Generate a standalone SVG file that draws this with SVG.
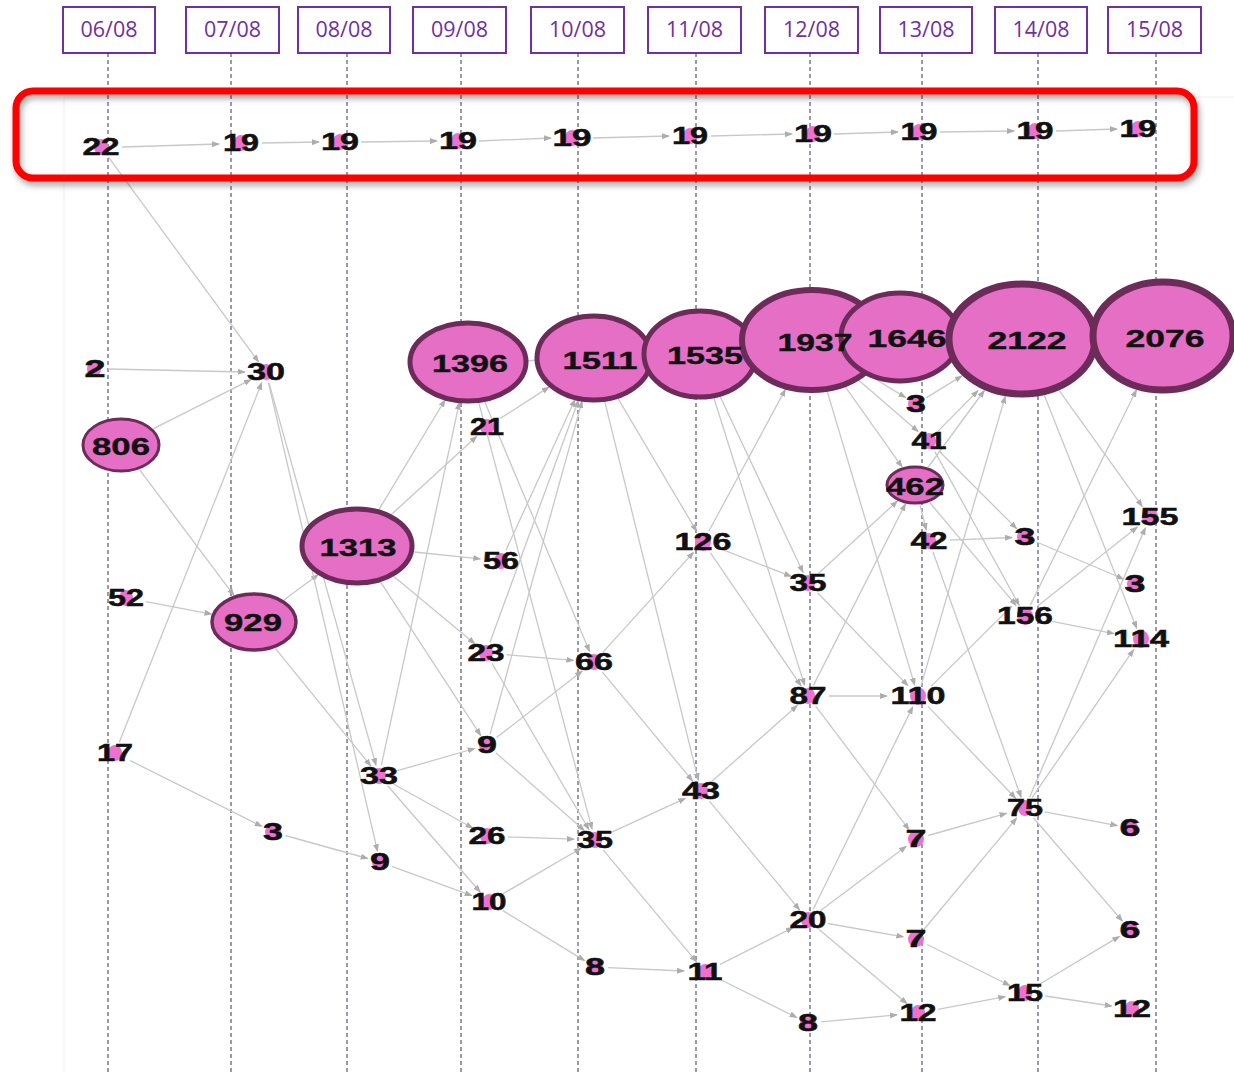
<svg xmlns="http://www.w3.org/2000/svg" width="1234" height="1072" viewBox="0 0 1234 1072">
<style>
.bg{stroke:#efefef;stroke-width:1;fill:none}
.d{stroke:#3b3358;stroke-width:1;stroke-dasharray:4 3;fill:none}
.db{fill:#fff;stroke:#7030a0;stroke-width:2}
.dt{font-family:"Open Sans","Noto Sans",sans-serif;font-size:21px;fill:#7030a0;text-anchor:middle}
.e{stroke:#c8c8c8;stroke-width:1.3;fill:none;marker-end:url(#ah)}
.en{stroke:#c8c8c8;stroke-width:1.3;fill:none}
.big{fill:#e66fc6;stroke:#6d2b5a}
.dot{fill:#ee70cf}
.lb{font-family:"Liberation Sans",Arial,sans-serif;font-weight:bold;font-size:23px;fill:#111;stroke:#111;stroke-width:0.5;text-anchor:middle}
.lg{font-family:"Liberation Sans",Arial,sans-serif;font-weight:bold;font-size:24px;fill:#111;stroke:#111;stroke-width:0.4;text-anchor:middle}
</style>
<defs>
<marker id="ah" markerWidth="8" markerHeight="6" refX="7" refY="3" orient="auto" markerUnits="userSpaceOnUse">
<path d="M0,0 L8,3 L0,6 z" fill="#adadad"/>
</marker>
<filter id="sh" x="-5%" y="-30%" width="110%" height="170%">
<feDropShadow dx="2" dy="4" stdDeviation="3" flood-color="#000" flood-opacity="0.35"/>
</filter>
</defs>
<rect width="1234" height="1072" fill="#fff"/>
<path class="bg" d="M64,97 V1072 M64,97 H1234"/>
<g id="dates">
<g id="d0608"><rect class="db" x="63" y="7" width="92" height="46"/><text class="dt" x="109" y="37" textLength="57" lengthAdjust="spacingAndGlyphs">06/08</text></g>
<g id="d0708"><rect class="db" x="186" y="7" width="93" height="46"/><text class="dt" x="232.5" y="37" textLength="57" lengthAdjust="spacingAndGlyphs">07/08</text></g>
<g id="d0808"><rect class="db" x="298" y="7" width="92" height="46"/><text class="dt" x="344" y="37" textLength="57" lengthAdjust="spacingAndGlyphs">08/08</text></g>
<g id="d0908"><rect class="db" x="413" y="7" width="93" height="46"/><text class="dt" x="459.5" y="37" textLength="57" lengthAdjust="spacingAndGlyphs">09/08</text></g>
<g id="d1008"><rect class="db" x="531" y="7" width="93" height="46"/><text class="dt" x="577.5" y="37" textLength="57" lengthAdjust="spacingAndGlyphs">10/08</text></g>
<g id="d1108"><rect class="db" x="648" y="7" width="93" height="46"/><text class="dt" x="694.5" y="37" textLength="57" lengthAdjust="spacingAndGlyphs">11/08</text></g>
<g id="d1208"><rect class="db" x="765" y="7" width="93" height="46"/><text class="dt" x="811.5" y="37" textLength="57" lengthAdjust="spacingAndGlyphs">12/08</text></g>
<g id="d1308"><rect class="db" x="880" y="7" width="92" height="46"/><text class="dt" x="926" y="37" textLength="57" lengthAdjust="spacingAndGlyphs">13/08</text></g>
<g id="d1408"><rect class="db" x="995" y="7" width="92" height="46"/><text class="dt" x="1041" y="37" textLength="57" lengthAdjust="spacingAndGlyphs">14/08</text></g>
<g id="d1508"><rect class="db" x="1108" y="7" width="93" height="46"/><text class="dt" x="1154.5" y="37" textLength="57" lengthAdjust="spacingAndGlyphs">15/08</text></g>
</g>
<g id="gridlines">
<path class="d" d="M108,53V1072M231,53V1072M347,53V1072M461,53V1072M578,53V1072M696,53V1072M810,53V1072M922,53V1072M1038,53V1072M1156,53V1072"/>
</g>
<g id="connectors">
<line class="e" x1="122" y1="147" x2="219" y2="144"/>
<line class="e" x1="262" y1="143" x2="319" y2="142"/>
<line class="e" x1="361" y1="142" x2="437" y2="141"/>
<line class="e" x1="479" y1="141" x2="551" y2="138"/>
<line class="e" x1="593" y1="138" x2="669" y2="136"/>
<line class="e" x1="711" y1="136" x2="792" y2="134"/>
<line class="e" x1="834" y1="134" x2="898" y2="132"/>
<line class="e" x1="940" y1="132" x2="1014" y2="131"/>
<line class="e" x1="1056" y1="131" x2="1117" y2="129"/>
<line class="e" x1="108.5" y1="157.2" x2="258.5" y2="361.8"/>
<line class="e" x1="108" y1="369" x2="245" y2="372"/>
<line class="e" x1="153.5" y1="428.6" x2="250.9" y2="379.6"/>
<line class="e" x1="139.6" y1="469.8" x2="233.9" y2="595.3"/>
<line class="e" x1="145.8" y1="601.7" x2="211.5" y2="614.1"/>
<line class="e" x1="119.3" y1="742.2" x2="261.7" y2="382.8"/>
<line class="e" x1="130.2" y1="760.6" x2="261.8" y2="826.4"/>
<line class="e" x1="285.3" y1="835.5" x2="367.7" y2="858.5"/>
<line class="e" x1="283.9" y1="600" x2="318" y2="574.8"/>
<line class="e" x1="275.3" y1="648.3" x2="370.8" y2="765.9"/>
<line class="e" x1="269" y1="382.9" x2="376" y2="765.1"/>
<line class="e" x1="268.5" y1="382.9" x2="377.5" y2="851.2"/>
<line class="e" x1="381.4" y1="765" x2="459.3" y2="402.6"/>
<line class="e" x1="378.8" y1="509.9" x2="445" y2="400"/>
<line class="e" x1="391.3" y1="514.6" x2="476.6" y2="436.5"/>
<line class="e" x1="500.3" y1="418.4" x2="549" y2="387.1"/>
<line class="e" x1="414.3" y1="552" x2="480.3" y2="558.8"/>
<line class="e" x1="393.6" y1="576.3" x2="474.8" y2="643.7"/>
<line class="e" x1="380.3" y1="581.7" x2="480.7" y2="735.4"/>
<line class="e" x1="397.4" y1="770.7" x2="474.7" y2="748.5"/>
<line class="e" x1="393.4" y1="784" x2="472.6" y2="828"/>
<line class="e" x1="387.8" y1="786" x2="480.2" y2="892"/>
<line class="e" x1="391.9" y1="866.4" x2="471.8" y2="895.7"/>
<line class="e" x1="496.6" y1="737.6" x2="582.2" y2="671.1"/>
<line class="e" x1="490" y1="734.3" x2="582.1" y2="401.1"/>
<line class="e" x1="496" y1="752.9" x2="584.3" y2="830.5"/>
<line class="e" x1="506.6" y1="654.7" x2="573.4" y2="660.3"/>
<line class="e" x1="490" y1="642.2" x2="578.4" y2="400.5"/>
<line class="e" x1="492.1" y1="663.5" x2="588.9" y2="829.5"/>
<line class="e" x1="505.9" y1="550.3" x2="574.9" y2="399.7"/>
<line class="en" x1="527" y1="361" x2="537" y2="360"/>
<line class="e" x1="484.6" y1="401.5" x2="589.5" y2="651.3"/>
<line class="e" x1="478.7" y1="402.3" x2="592.1" y2="829.1"/>
<line class="e" x1="604.7" y1="401.3" x2="698.3" y2="780.1"/>
<line class="e" x1="617.9" y1="398.3" x2="696.6" y2="531.2"/>
<line class="e" x1="603" y1="652.1" x2="693.5" y2="552.4"/>
<line class="e" x1="602.4" y1="672.1" x2="692.6" y2="780.9"/>
<line class="e" x1="708.8" y1="531.2" x2="785.4" y2="389.4"/>
<line class="e" x1="723.9" y1="550.2" x2="791.1" y2="576.4"/>
<line class="e" x1="710.3" y1="552.7" x2="801" y2="685.7"/>
<line class="e" x1="720" y1="396.3" x2="803" y2="572.3"/>
<line class="e" x1="713.8" y1="397.8" x2="804.6" y2="685.1"/>
<line class="e" x1="711.7" y1="781.5" x2="797.3" y2="705.5"/>
<line class="e" x1="709.4" y1="801.1" x2="799.6" y2="909.9"/>
<line class="e" x1="610.7" y1="832.7" x2="685.3" y2="798.3"/>
<line class="e" x1="603.4" y1="850.1" x2="696.6" y2="961.9"/>
<line class="e" x1="508" y1="836.8" x2="574" y2="839.2"/>
<line class="e" x1="503" y1="893.8" x2="581" y2="848.2"/>
<line class="e" x1="502.6" y1="910.4" x2="584.5" y2="960.6"/>
<line class="e" x1="608" y1="967.6" x2="684" y2="971"/>
<line class="e" x1="720.1" y1="964.4" x2="792.9" y2="927.6"/>
<line class="e" x1="720.2" y1="979.5" x2="796.8" y2="1017.5"/>
<line class="e" x1="820" y1="911" x2="906.2" y2="846.3"/>
<line class="e" x1="827.9" y1="923.5" x2="903.3" y2="936.8"/>
<line class="e" x1="819.1" y1="929.4" x2="906.9" y2="1003.6"/>
<line class="e" x1="813.2" y1="909.3" x2="912.7" y2="706.9"/>
<line class="e" x1="815.7" y1="706.2" x2="909" y2="829.7"/>
<line class="e" x1="829" y1="696" x2="887" y2="696"/>
<line class="e" x1="813.4" y1="685.4" x2="905.4" y2="503.9"/>
<line class="e" x1="821" y1="1021.8" x2="897" y2="1014.9"/>
<line class="e" x1="937.8" y1="1009.3" x2="1005.2" y2="996.7"/>
<line class="e" x1="927.2" y1="944.5" x2="1009.8" y2="985.5"/>
<line class="e" x1="923.5" y1="930" x2="1016.6" y2="818.1"/>
<line class="e" x1="928.3" y1="835.5" x2="1006.5" y2="813.3"/>
<line class="e" x1="1038.7" y1="984.8" x2="1119.4" y2="936.4"/>
<line class="e" x1="1045.3" y1="996" x2="1111.7" y2="1006"/>
<line class="e" x1="1044.7" y1="811.8" x2="1117.3" y2="825.6"/>
<line class="e" x1="1033.6" y1="818" x2="1122.4" y2="921.1"/>
<line class="e" x1="1029.6" y1="797.3" x2="1145.3" y2="527.8"/>
<line class="e" x1="1032.1" y1="797.6" x2="1133.6" y2="649.7"/>
<line class="e" x1="1030.3" y1="605.1" x2="1136.4" y2="390"/>
<line class="e" x1="1052.1" y1="621.4" x2="1113.9" y2="633.6"/>
<line class="e" x1="1037.7" y1="605.9" x2="1137.3" y2="527.1"/>
<line class="e" x1="931.3" y1="686.1" x2="1011.7" y2="606.1"/>
<line class="e" x1="928" y1="706.4" x2="1015.6" y2="798.2"/>
<line class="e" x1="921.2" y1="685.1" x2="1005.2" y2="396.4"/>
<line class="e" x1="818.4" y1="573.5" x2="897.3" y2="501.2"/>
<line class="e" x1="817.6" y1="592.8" x2="907.9" y2="685.6"/>
<line class="e" x1="827.4" y1="391.9" x2="914.7" y2="685.1"/>
<line class="e" x1="845.5" y1="387.1" x2="902.1" y2="466.9"/>
<line class="e" x1="867.7" y1="374.3" x2="905.5" y2="397.6"/>
<line class="e" x1="859" y1="380.6" x2="918.1" y2="431.6"/>
<line class="e" x1="926.5" y1="397.6" x2="961.9" y2="375.9"/>
<line class="e" x1="938" y1="431.1" x2="977.9" y2="390.7"/>
<line class="e" x1="938.8" y1="450.8" x2="1016.6" y2="528.6"/>
<line class="e" x1="934.8" y1="451.6" x2="1019.1" y2="605.2"/>
<line class="e" x1="928.2" y1="467" x2="984.3" y2="390.5"/>
<line class="e" x1="919.9" y1="504.7" x2="926.3" y2="530"/>
<line class="e" x1="929.7" y1="502.5" x2="1016.1" y2="605.4"/>
<line class="e" x1="950" y1="540.1" x2="1012" y2="537.5"/>
<line class="e" x1="932.9" y1="551.8" x2="1021.1" y2="797.2"/>
<line class="e" x1="1036.6" y1="542" x2="1123.4" y2="579"/>
<line class="e" x1="1059.2" y1="390.7" x2="1142.3" y2="506.4"/>
<line class="e" x1="1044.4" y1="395.4" x2="1136.7" y2="628.2"/>
</g>
<g id="nodes">
<g id="n806"><ellipse class="big" cx="121" cy="445" rx="38" ry="26" stroke-width="3"/></g>
<g id="n929"><ellipse class="big" cx="254" cy="622" rx="42" ry="28" stroke-width="3.5"/></g>
<g id="n1313"><ellipse class="big" cx="357" cy="546" rx="55" ry="37" stroke-width="5"/></g>
<g id="n1396"><ellipse class="big" cx="468" cy="362" rx="58" ry="39" stroke-width="5"/></g>
<g id="n1511"><ellipse class="big" cx="594" cy="358" rx="57" ry="42" stroke-width="5"/></g>
<g id="n1535"><ellipse class="big" cx="700" cy="354" rx="56" ry="43" stroke-width="5"/></g>
<g id="n1937"><ellipse class="big" cx="812" cy="340" rx="70" ry="50" stroke-width="6"/></g>
<g id="n1646"><ellipse class="big" cx="900" cy="337" rx="59" ry="44" stroke-width="5"/></g>
<g id="n2122"><ellipse class="big" cx="1022" cy="339" rx="73" ry="55" stroke-width="7"/></g>
<g id="n2076"><ellipse class="big" cx="1163" cy="336" rx="70" ry="54" stroke-width="7"/></g>
<g id="n462"><ellipse class="big" cx="915" cy="485" rx="28" ry="18" stroke-width="3"/></g>
</g>
<g id="smallnodes">
<g id="t1"><ellipse class="dot" cx="101" cy="147" rx="7" ry="8"/><text class="lb" x="101" y="155" textLength="37" lengthAdjust="spacingAndGlyphs">22</text></g>
<g id="t2"><ellipse class="dot" cx="241" cy="143" rx="7" ry="8"/><text class="lb" x="241" y="151" textLength="36" lengthAdjust="spacingAndGlyphs">19</text></g>
<g id="t3"><ellipse class="dot" cx="340" cy="142" rx="7" ry="8"/><text class="lb" x="340" y="150" textLength="38" lengthAdjust="spacingAndGlyphs">19</text></g>
<g id="t4"><ellipse class="dot" cx="458" cy="141" rx="7" ry="8"/><text class="lb" x="458" y="149" textLength="38" lengthAdjust="spacingAndGlyphs">19</text></g>
<g id="t5"><ellipse class="dot" cx="572" cy="138" rx="7" ry="8"/><text class="lb" x="572" y="146" textLength="39" lengthAdjust="spacingAndGlyphs">19</text></g>
<g id="t6"><ellipse class="dot" cx="690" cy="136" rx="7" ry="8"/><text class="lb" x="690" y="144" textLength="36" lengthAdjust="spacingAndGlyphs">19</text></g>
<g id="t7"><ellipse class="dot" cx="813" cy="134" rx="7" ry="8"/><text class="lb" x="813" y="142" textLength="38" lengthAdjust="spacingAndGlyphs">19</text></g>
<g id="t8"><ellipse class="dot" cx="919" cy="132" rx="7" ry="8"/><text class="lb" x="919" y="140" textLength="37" lengthAdjust="spacingAndGlyphs">19</text></g>
<g id="t9"><ellipse class="dot" cx="1035" cy="131" rx="7" ry="8"/><text class="lb" x="1035" y="139" textLength="37" lengthAdjust="spacingAndGlyphs">19</text></g>
<g id="t10"><ellipse class="dot" cx="1138" cy="129" rx="7" ry="8"/><text class="lb" x="1138" y="137" textLength="37" lengthAdjust="spacingAndGlyphs">19</text></g>
<g id="n2"><ellipse class="dot" cx="94" cy="369" rx="7" ry="8"/><text class="lb" x="95" y="377" textLength="21" lengthAdjust="spacingAndGlyphs">2</text></g>
<g id="n52"><ellipse class="dot" cx="126" cy="598" rx="7" ry="8"/><text class="lb" x="126" y="606" textLength="36" lengthAdjust="spacingAndGlyphs">52</text></g>
<g id="n17"><ellipse class="dot" cx="115" cy="753" rx="7" ry="8"/><text class="lb" x="115" y="761" textLength="36" lengthAdjust="spacingAndGlyphs">17</text></g>
<g id="n30"><ellipse class="dot" cx="266" cy="372" rx="7" ry="8"/><text class="lb" x="266" y="380" textLength="38" lengthAdjust="spacingAndGlyphs">30</text></g>
<g id="n3a"><ellipse class="dot" cx="273" cy="832" rx="8" ry="8"/><text class="lb" x="273" y="840" textLength="20" lengthAdjust="spacingAndGlyphs">3</text></g>
<g id="n33"><ellipse class="dot" cx="379" cy="776" rx="7" ry="8"/><text class="lb" x="379" y="784" textLength="38" lengthAdjust="spacingAndGlyphs">33</text></g>
<g id="n9a"><ellipse class="dot" cx="380" cy="862" rx="8" ry="8"/><text class="lb" x="380" y="870" textLength="20" lengthAdjust="spacingAndGlyphs">9</text></g>
<g id="n21"><ellipse class="dot" cx="487" cy="427" rx="7" ry="8"/><text class="lb" x="487" y="435" textLength="34" lengthAdjust="spacingAndGlyphs">21</text></g>
<g id="n56"><ellipse class="dot" cx="501" cy="561" rx="7" ry="8"/><text class="lb" x="501" y="569" textLength="36" lengthAdjust="spacingAndGlyphs">56</text></g>
<g id="n23"><ellipse class="dot" cx="486" cy="653" rx="7" ry="8"/><text class="lb" x="486" y="661" textLength="37" lengthAdjust="spacingAndGlyphs">23</text></g>
<g id="n9b"><ellipse class="dot" cx="487" cy="745" rx="8" ry="8"/><text class="lb" x="487" y="753" textLength="20" lengthAdjust="spacingAndGlyphs">9</text></g>
<g id="n26"><ellipse class="dot" cx="487" cy="836" rx="7" ry="8"/><text class="lb" x="487" y="844" textLength="37" lengthAdjust="spacingAndGlyphs">26</text></g>
<g id="n10"><ellipse class="dot" cx="489" cy="902" rx="7" ry="8"/><text class="lb" x="489" y="910" textLength="35" lengthAdjust="spacingAndGlyphs">10</text></g>
<g id="n66"><ellipse class="dot" cx="594" cy="662" rx="7" ry="8"/><text class="lb" x="594" y="670" textLength="38" lengthAdjust="spacingAndGlyphs">66</text></g>
<g id="n35a"><ellipse class="dot" cx="595" cy="840" rx="7" ry="8"/><text class="lb" x="595" y="848" textLength="36" lengthAdjust="spacingAndGlyphs">35</text></g>
<g id="n8a"><ellipse class="dot" cx="595" cy="967" rx="8" ry="8"/><text class="lb" x="595" y="975" textLength="20" lengthAdjust="spacingAndGlyphs">8</text></g>
<g id="n126"><ellipse class="dot" cx="703" cy="542" rx="8" ry="9"/><text class="lb" x="703" y="550" textLength="57" lengthAdjust="spacingAndGlyphs">126</text></g>
<g id="n43"><ellipse class="dot" cx="701" cy="791" rx="7" ry="8"/><text class="lb" x="701" y="799" textLength="38" lengthAdjust="spacingAndGlyphs">43</text></g>
<g id="n11"><ellipse class="dot" cx="705" cy="972" rx="7" ry="8"/><text class="lb" x="705" y="980" textLength="35" lengthAdjust="spacingAndGlyphs">11</text></g>
<g id="n35b"><ellipse class="dot" cx="808" cy="583" rx="7" ry="8"/><text class="lb" x="808" y="591" textLength="37" lengthAdjust="spacingAndGlyphs">35</text></g>
<g id="n87"><ellipse class="dot" cx="808" cy="696" rx="7" ry="8"/><text class="lb" x="808" y="704" textLength="37" lengthAdjust="spacingAndGlyphs">87</text></g>
<g id="n20"><ellipse class="dot" cx="808" cy="920" rx="7" ry="8"/><text class="lb" x="808" y="928" textLength="37" lengthAdjust="spacingAndGlyphs">20</text></g>
<g id="n8b"><ellipse class="dot" cx="808" cy="1023" rx="8" ry="8"/><text class="lb" x="808" y="1031" textLength="20" lengthAdjust="spacingAndGlyphs">8</text></g>
<g id="n3b"><ellipse class="dot" cx="916" cy="404" rx="8" ry="8"/><text class="lb" x="916" y="412" textLength="20" lengthAdjust="spacingAndGlyphs">3</text></g>
<g id="n41"><ellipse class="dot" cx="929" cy="441" rx="7" ry="8"/><text class="lb" x="929" y="449" textLength="35" lengthAdjust="spacingAndGlyphs">41</text></g>
<g id="n42"><ellipse class="dot" cx="929" cy="541" rx="7" ry="8"/><text class="lb" x="929" y="549" textLength="37" lengthAdjust="spacingAndGlyphs">42</text></g>
<g id="n110"><ellipse class="dot" cx="918" cy="696" rx="8" ry="9"/><text class="lb" x="918" y="704" textLength="55" lengthAdjust="spacingAndGlyphs">110</text></g>
<g id="n7a"><ellipse class="dot" cx="916" cy="839" rx="8" ry="8"/><text class="lb" x="916" y="847" textLength="21" lengthAdjust="spacingAndGlyphs">7</text></g>
<g id="n7b"><ellipse class="dot" cx="916" cy="939" rx="8" ry="8"/><text class="lb" x="916" y="947" textLength="21" lengthAdjust="spacingAndGlyphs">7</text></g>
<g id="n12a"><ellipse class="dot" cx="918" cy="1013" rx="7" ry="8"/><text class="lb" x="918" y="1021" textLength="37" lengthAdjust="spacingAndGlyphs">12</text></g>
<g id="n3c"><ellipse class="dot" cx="1025" cy="537" rx="8" ry="8"/><text class="lb" x="1025" y="545" textLength="21" lengthAdjust="spacingAndGlyphs">3</text></g>
<g id="n156"><ellipse class="dot" cx="1025" cy="616" rx="8" ry="9"/><text class="lb" x="1025" y="624" textLength="56" lengthAdjust="spacingAndGlyphs">156</text></g>
<g id="n75"><ellipse class="dot" cx="1025" cy="808" rx="7" ry="8"/><text class="lb" x="1025" y="816" textLength="36" lengthAdjust="spacingAndGlyphs">75</text></g>
<g id="n15"><ellipse class="dot" cx="1025" cy="993" rx="7" ry="8"/><text class="lb" x="1025" y="1001" textLength="36" lengthAdjust="spacingAndGlyphs">15</text></g>
<g id="n155"><ellipse class="dot" cx="1150" cy="517" rx="8" ry="9"/><text class="lb" x="1150" y="525" textLength="57" lengthAdjust="spacingAndGlyphs">155</text></g>
<g id="n3d"><ellipse class="dot" cx="1135" cy="584" rx="8" ry="8"/><text class="lb" x="1135" y="592" textLength="21" lengthAdjust="spacingAndGlyphs">3</text></g>
<g id="n114"><ellipse class="dot" cx="1141" cy="639" rx="8" ry="9"/><text class="lb" x="1141" y="647" textLength="56" lengthAdjust="spacingAndGlyphs">114</text></g>
<g id="n6a"><ellipse class="dot" cx="1130" cy="828" rx="8" ry="8"/><text class="lb" x="1130" y="836" textLength="21" lengthAdjust="spacingAndGlyphs">6</text></g>
<g id="n6b"><ellipse class="dot" cx="1130" cy="930" rx="8" ry="8"/><text class="lb" x="1130" y="938" textLength="21" lengthAdjust="spacingAndGlyphs">6</text></g>
<g id="n12b"><ellipse class="dot" cx="1132" cy="1009" rx="7" ry="8"/><text class="lb" x="1132" y="1017" textLength="38" lengthAdjust="spacingAndGlyphs">12</text></g>
</g>
<g id="biglabels">
<text class="lg" x="121" y="455" textLength="58" lengthAdjust="spacingAndGlyphs">806</text>
<text class="lg" x="253" y="631" textLength="58" lengthAdjust="spacingAndGlyphs">929</text>
<text class="lg" x="358" y="556" textLength="77" lengthAdjust="spacingAndGlyphs">1313</text>
<text class="lg" x="470" y="372" textLength="76" lengthAdjust="spacingAndGlyphs">1396</text>
<text class="lg" x="600" y="369" textLength="75" lengthAdjust="spacingAndGlyphs">1511</text>
<text class="lg" x="705" y="364" textLength="76" lengthAdjust="spacingAndGlyphs">1535</text>
<text class="lg" x="815" y="351" textLength="75" lengthAdjust="spacingAndGlyphs">1937</text>
<text class="lg" x="907" y="347" textLength="79" lengthAdjust="spacingAndGlyphs">1646</text>
<text class="lg" x="1027" y="349" textLength="79" lengthAdjust="spacingAndGlyphs">2122</text>
<text class="lg" x="1165" y="347" textLength="79" lengthAdjust="spacingAndGlyphs">2076</text>
<text class="lg" x="915" y="495" textLength="58" lengthAdjust="spacingAndGlyphs">462</text>
</g>
<g id="highlight">
<rect x="16" y="91" width="1178" height="87" rx="17" fill="none" stroke="#ff0000" stroke-width="7" filter="url(#sh)"/>
</g>
</svg>
